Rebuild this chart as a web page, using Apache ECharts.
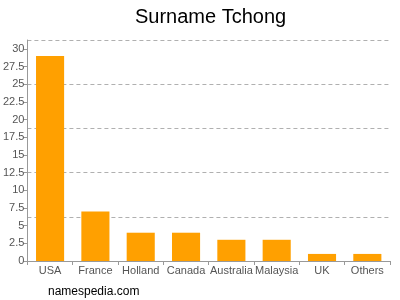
<!DOCTYPE html>
<html><head><meta charset="utf-8">
<script src="https://cdn.jsdelivr.net/npm/echarts@6/dist/echarts.min.js"></script>
<style>html,body{margin:0;padding:0;background:#fff}#c{width:400px;height:300px}</style>
</head><body><div id="c"></div>
<script>
const categories = ["USA","France","Holland","Canada","Australia","Malaysia","UK","Others"];
const counts = [29,7,4,4,3,3,1,1];
const tickLabels = [0,2.5,5,7.5,10,12.5,15,17.5,20,22.5,25,27.5,30];
const gridLines = [0,6.25,12.5,18.75,25,31.25];

const chart = echarts.init(document.getElementById('c'), null, {renderer:'canvas'});
const font = 'Liberation Sans, Arial, sans-serif';
chart.setOption({
  animation:false,
  title:{text:'Surname Tchong', left:130, top:2, textStyle:{fontFamily:font, fontSize:20, fontWeight:'normal', color:'#000'}},
  graphic:[{type:'text', left:48, top:286, style:{text:'namespedia.com', font:'12px '+font, fill:'#000'}}],
  grid:{left:27, right:10, top:40, bottom:39, containLabel:false},
  xAxis:{type:'category', data:categories,
    axisLine:{lineStyle:{color:'#999'}},
    axisTick:{show:true, length:4, lineStyle:{color:'#999'}},
    axisLabel:{color:'#555', fontFamily:font, fontSize:11, margin:4, interval:0}},
  yAxis:[
    {type:'value', min:0, max:gridLines[gridLines.length-1], interval:6.25,
      axisLine:{show:true, lineStyle:{color:'#999'}},
      axisTick:{show:false}, axisLabel:{show:false},
      splitLine:{show:true, lineStyle:{color:'#b0b0b0', type:[4,3]}}},
    {type:'value', min:0, max:gridLines[gridLines.length-1], position:'left',
      axisLine:{show:false},
      axisTick:{show:true, length:4, lineStyle:{color:'#999'}, customValues:tickLabels},
      axisLabel:{color:'#555', fontFamily:font, fontSize:11, margin:3, customValues:tickLabels},
      splitLine:{show:false}}
  ],
  series:[{type:'bar', data:counts, yAxisIndex:0, barWidth:'62%', itemStyle:{color:'#FFA000'}}]
});
</script></body></html>
